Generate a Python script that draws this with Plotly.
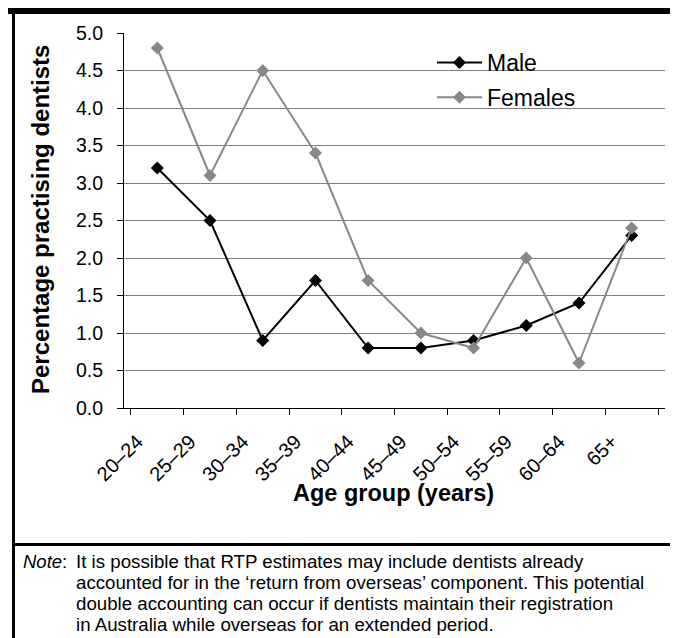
import plotly.graph_objects as go

# ---- data ----
age_groups = ["20–24", "25–29", "30–34", "35–39", "40–44",
              "45–49", "50–54", "55–59", "60–64", "65+"]
male = [3.2, 2.5, 0.9, 1.7, 0.8, 0.8, 0.9, 1.1, 1.4, 2.3]
females = [4.8, 3.1, 4.5, 3.4, 1.7, 1.0, 0.8, 2.0, 0.6, 2.4]
y_tick_vals = [0.0, 0.5, 1.0, 1.5, 2.0, 2.5, 3.0, 3.5, 4.0, 4.5, 5.0]
note_label = "Note"
note_lines = [
    "It is possible that RTP estimates may include dentists already",
    "accounted for in the ‘return from overseas’ component. This potential",
    "double accounting can occur if dentists maintain their registration",
    "in Australia while overseas for an extended period.",
]

# ---- layout geometry (page has an 8px body margin) ----
OFF = 8
W, H = 670, 630
L, R, T, B = 116, 13, 25, 230
PW, PH = W - L - R, H - T - B
FONT = "Liberation Sans, Arial, sans-serif"
MALE_C = "#000000"
FEM_C = "#888888"
GRID_C = "#808080"


def px(x):
    """window x -> paper x"""
    return (x - OFF - L) / PW


def py(y):
    """window y -> paper y"""
    return (H - B - (y - OFF)) / PH


fig = go.Figure()
fig.add_trace(go.Scatter(
    x=age_groups, y=male, name="Male", mode="lines+markers",
    line=dict(color=MALE_C, width=2),
    marker=dict(symbol="diamond", size=10, color=MALE_C),
    legendgroup="m",
))
fig.add_trace(go.Scatter(
    x=age_groups, y=females, name="Females", mode="lines+markers",
    line=dict(color=FEM_C, width=2),
    marker=dict(symbol="diamond", size=10, color=FEM_C),
    legendgroup="f",
))

shapes = [
    # white box behind legend hiding gridlines
    dict(type="rect", xref="paper", yref="paper", layer="between",
         x0=px(412), x1=px(600), y0=py(120), y1=py(48),
         fillcolor="white", line=dict(width=0)),
    # top black band
    dict(type="rect", xref="paper", yref="paper", layer="above",
         x0=px(0), x1=px(700), y0=py(0), y1=py(14),
         fillcolor="black", line=dict(width=0)),
    # left border
    dict(type="line", xref="paper", yref="paper", layer="above",
         x0=px(13.5), x1=px(13.5), y0=py(0), y1=py(700),
         line=dict(color="black", width=3)),
    # right border
    dict(type="line", xref="paper", yref="paper", layer="above",
         x0=px(672.5), x1=px(672.5), y0=py(0), y1=py(700),
         line=dict(color="black", width=3)),
    # separator above note
    dict(type="line", xref="paper", yref="paper", layer="above",
         x0=px(12), x1=px(674), y0=py(544.5), y1=py(544.5),
         line=dict(color="black", width=3)),
]

annotations = [
    dict(text="<b>Percentage practising dentists</b>", xref="paper", yref="paper",
         x=px(40), y=py(220), textangle=-90, showarrow=False,
         font=dict(family=FONT, size=24, color="black"),
         xanchor="center", yanchor="middle"),
    dict(text="<b>Age group (years)</b>", xref="paper", yref="paper",
         x=px(393), y=py(493), showarrow=False,
         font=dict(family=FONT, size=23.5, color="black"),
         xanchor="center", yanchor="middle"),
    dict(text="<i>" + note_label + "</i>:", xref="paper", yref="paper",
         x=px(21), y=py(561), showarrow=False,
         font=dict(family=FONT, size=18.5, color="black"),
         xanchor="left", yanchor="middle"),
]
for i, line in enumerate(note_lines):
    annotations.append(dict(
        text=line, xref="paper", yref="paper",
        x=px(74), y=py(561 + 21.3 * i), showarrow=False, align="left",
        font=dict(family=FONT, size=18.7, color="black"),
        xanchor="left", yanchor="middle"))

fig.update_layout(
    width=W, height=H,
    margin=dict(l=L, r=R, t=T, b=B, autoexpand=False),
    paper_bgcolor="white", plot_bgcolor="white",
    font=dict(family=FONT, size=19, color="black"),
    showlegend=True,
    legend=dict(x=px(432), y=py(41), xanchor="left", yanchor="top",
                bgcolor="rgba(0,0,0,0)", borderwidth=0,
                font=dict(family=FONT, size=23, color="black"),
                itemwidth=45, tracegroupgap=2, traceorder="grouped"),
    shapes=shapes,
    annotations=annotations,
)
fig.update_xaxes(
    type="category", tickson="boundaries", ticks="outside", ticklen=6,
    tickcolor="black", showline=True, linecolor="black", linewidth=1,
    showgrid=False, tickangle=-45, ticklabelshift=-20, ticklabelstandoff=13,
    tickfont=dict(family=FONT, size=20, color="black"),
    fixedrange=True,
)
fig.update_yaxes(
    range=[0, 5], tickvals=y_tick_vals, tickformat=".1f",
    ticks="outside", ticklen=6, tickcolor="black",
    showline=True, linecolor="black", linewidth=1,
    showgrid=True, gridcolor=GRID_C, gridwidth=1, zeroline=False,
    tickfont=dict(family=FONT, size=19.5, color="black"),
    ticklabelstandoff=10,
    fixedrange=True,
)

fig.write_html("out.html")
